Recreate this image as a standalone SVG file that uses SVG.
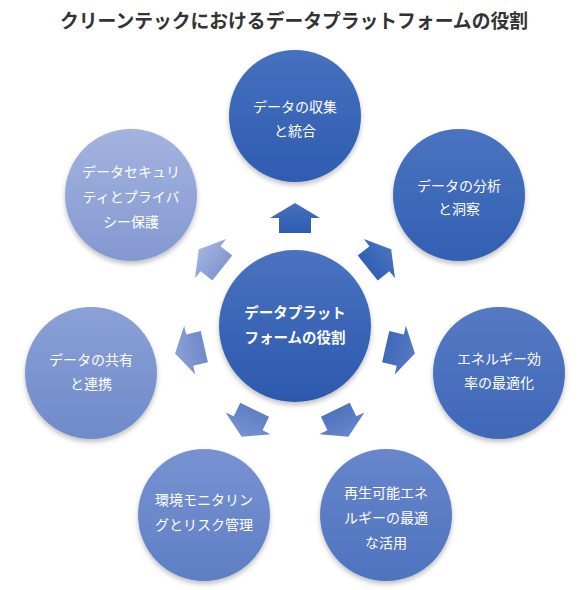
<svg xmlns="http://www.w3.org/2000/svg" xmlns:xlink="http://www.w3.org/1999/xlink" width="587" height="590" viewBox="0 0 587 590">
  <style>
    .title { font-family: "Noto Sans CJK JP", "Noto Sans", sans-serif; font-size: 19.5px; font-weight: bold; fill: #333333; text-anchor: middle; }
    .lbl { font-family: "Noto Sans CJK JP", "Noto Sans", sans-serif; font-size: 14px; fill: #ffffff; text-anchor: middle; }
    .lbl-c { font-family: "Noto Sans CJK JP", "Noto Sans", sans-serif; font-size: 14.5px; font-weight: bold; fill: #ffffff; text-anchor: middle; }
    .node circle { filter: url(#sh); }
  </style>
  <defs>
    <filter id="sh" x="-20%" y="-20%" width="140%" height="150%">
      <feDropShadow dx="0" dy="3" stdDeviation="2.5" flood-color="#000000" flood-opacity="0.25"/>
    </filter>
    <linearGradient id="gC" x1="0" y1="0" x2="0" y2="1"><stop offset="0" stop-color="#4a72c0"/><stop offset="1" stop-color="#2c59ad"/></linearGradient>
    <linearGradient id="g1" x1="0" y1="0" x2="0" y2="1"><stop offset="0" stop-color="#4670bf"/><stop offset="1" stop-color="#2e5cb0"/></linearGradient>
    <linearGradient id="g2" x1="0" y1="0" x2="0" y2="1"><stop offset="0" stop-color="#4a73c1"/><stop offset="1" stop-color="#3260b2"/></linearGradient>
    <linearGradient id="g3" x1="0" y1="0" x2="0" y2="1"><stop offset="0" stop-color="#5679c4"/><stop offset="1" stop-color="#3f68b8"/></linearGradient>
    <linearGradient id="g4" x1="0" y1="0" x2="0" y2="1"><stop offset="0" stop-color="#6786cb"/><stop offset="1" stop-color="#4e73be"/></linearGradient>
    <linearGradient id="g5" x1="0" y1="0" x2="0" y2="1"><stop offset="0" stop-color="#7892d1"/><stop offset="1" stop-color="#5e7fc4"/></linearGradient>
    <linearGradient id="g6" x1="0" y1="0" x2="0" y2="1"><stop offset="0" stop-color="#8ba0d7"/><stop offset="1" stop-color="#6f8aca"/></linearGradient>
    <linearGradient id="g7" x1="0" y1="0" x2="0" y2="1"><stop offset="0" stop-color="#a3b3df"/><stop offset="1" stop-color="#8498d1"/></linearGradient>
    <path id="arr" d="M -16,-93 L -16,-108 L -25,-108 L 0,-123 L 25,-108 L 16,-108 L 16,-93 Z"/>
  </defs>

  <text class="title" x="294" y="28" textLength="468" lengthAdjust="spacingAndGlyphs">クリーンテックにおけるデータプラットフォームの役割</text>

  <g id="connectors">
    <use xlink:href="#arr" href="#arr" fill="url(#g1)" transform="translate(295,326) rotate(0)"/>
    <use xlink:href="#arr" href="#arr" fill="url(#g2)" transform="translate(295,326) rotate(51.43)"/>
    <use xlink:href="#arr" href="#arr" fill="url(#g3)" transform="translate(295,326) rotate(102.86)"/>
    <use xlink:href="#arr" href="#arr" fill="url(#g4)" transform="translate(295,326) rotate(154.29)"/>
    <use xlink:href="#arr" href="#arr" fill="url(#g5)" transform="translate(295,326) rotate(205.71)"/>
    <use xlink:href="#arr" href="#arr" fill="url(#g6)" transform="translate(295,326) rotate(257.14)"/>
    <use xlink:href="#arr" href="#arr" fill="url(#g7)" transform="translate(295,326) rotate(308.57)"/>
  </g>

  <g id="center" class="node">
    <circle cx="295" cy="326" r="76" fill="url(#gC)"/>
    <text class="lbl-c" x="295" y="318">データプラット</text>
    <text class="lbl-c" x="295" y="343">フォームの役割</text>
  </g>

  <g id="n1" class="node">
    <circle cx="295" cy="116" r="66" fill="url(#g1)"/>
    <text class="lbl" x="295" y="112">データの収集</text>
    <text class="lbl" x="295" y="136">と統合</text>
  </g>

  <g id="n2" class="node">
    <circle cx="459" cy="195" r="66" fill="url(#g2)"/>
    <text class="lbl" x="459" y="191">データの分析</text>
    <text class="lbl" x="459" y="214">と洞察</text>
  </g>

  <g id="n3" class="node">
    <circle cx="499" cy="373" r="66" fill="url(#g3)"/>
    <text class="lbl" x="499" y="364">エネルギー効</text>
    <text class="lbl" x="499" y="388">率の最適化</text>
  </g>

  <g id="n4" class="node">
    <circle cx="386" cy="515" r="66" fill="url(#g4)"/>
    <text class="lbl" x="386" y="498">再生可能エネ</text>
    <text class="lbl" x="386" y="523">ルギーの最適</text>
    <text class="lbl" x="386" y="548">な活用</text>
  </g>

  <g id="n5" class="node">
    <circle cx="204" cy="515" r="66" fill="url(#g5)"/>
    <text class="lbl" x="204" y="505">環境モニタリン</text>
    <text class="lbl" x="204" y="530">グとリスク管理</text>
  </g>

  <g id="n6" class="node">
    <circle cx="91" cy="373" r="66" fill="url(#g6)"/>
    <text class="lbl" x="91" y="365">データの共有</text>
    <text class="lbl" x="91" y="389">と連携</text>
  </g>

  <g id="n7" class="node">
    <circle cx="131" cy="195" r="66" fill="url(#g7)"/>
    <text class="lbl" x="131" y="177">データセキュリ</text>
    <text class="lbl" x="131" y="202">ティとプライバ</text>
    <text class="lbl" x="131" y="227">シー保護</text>
  </g>
</svg>
